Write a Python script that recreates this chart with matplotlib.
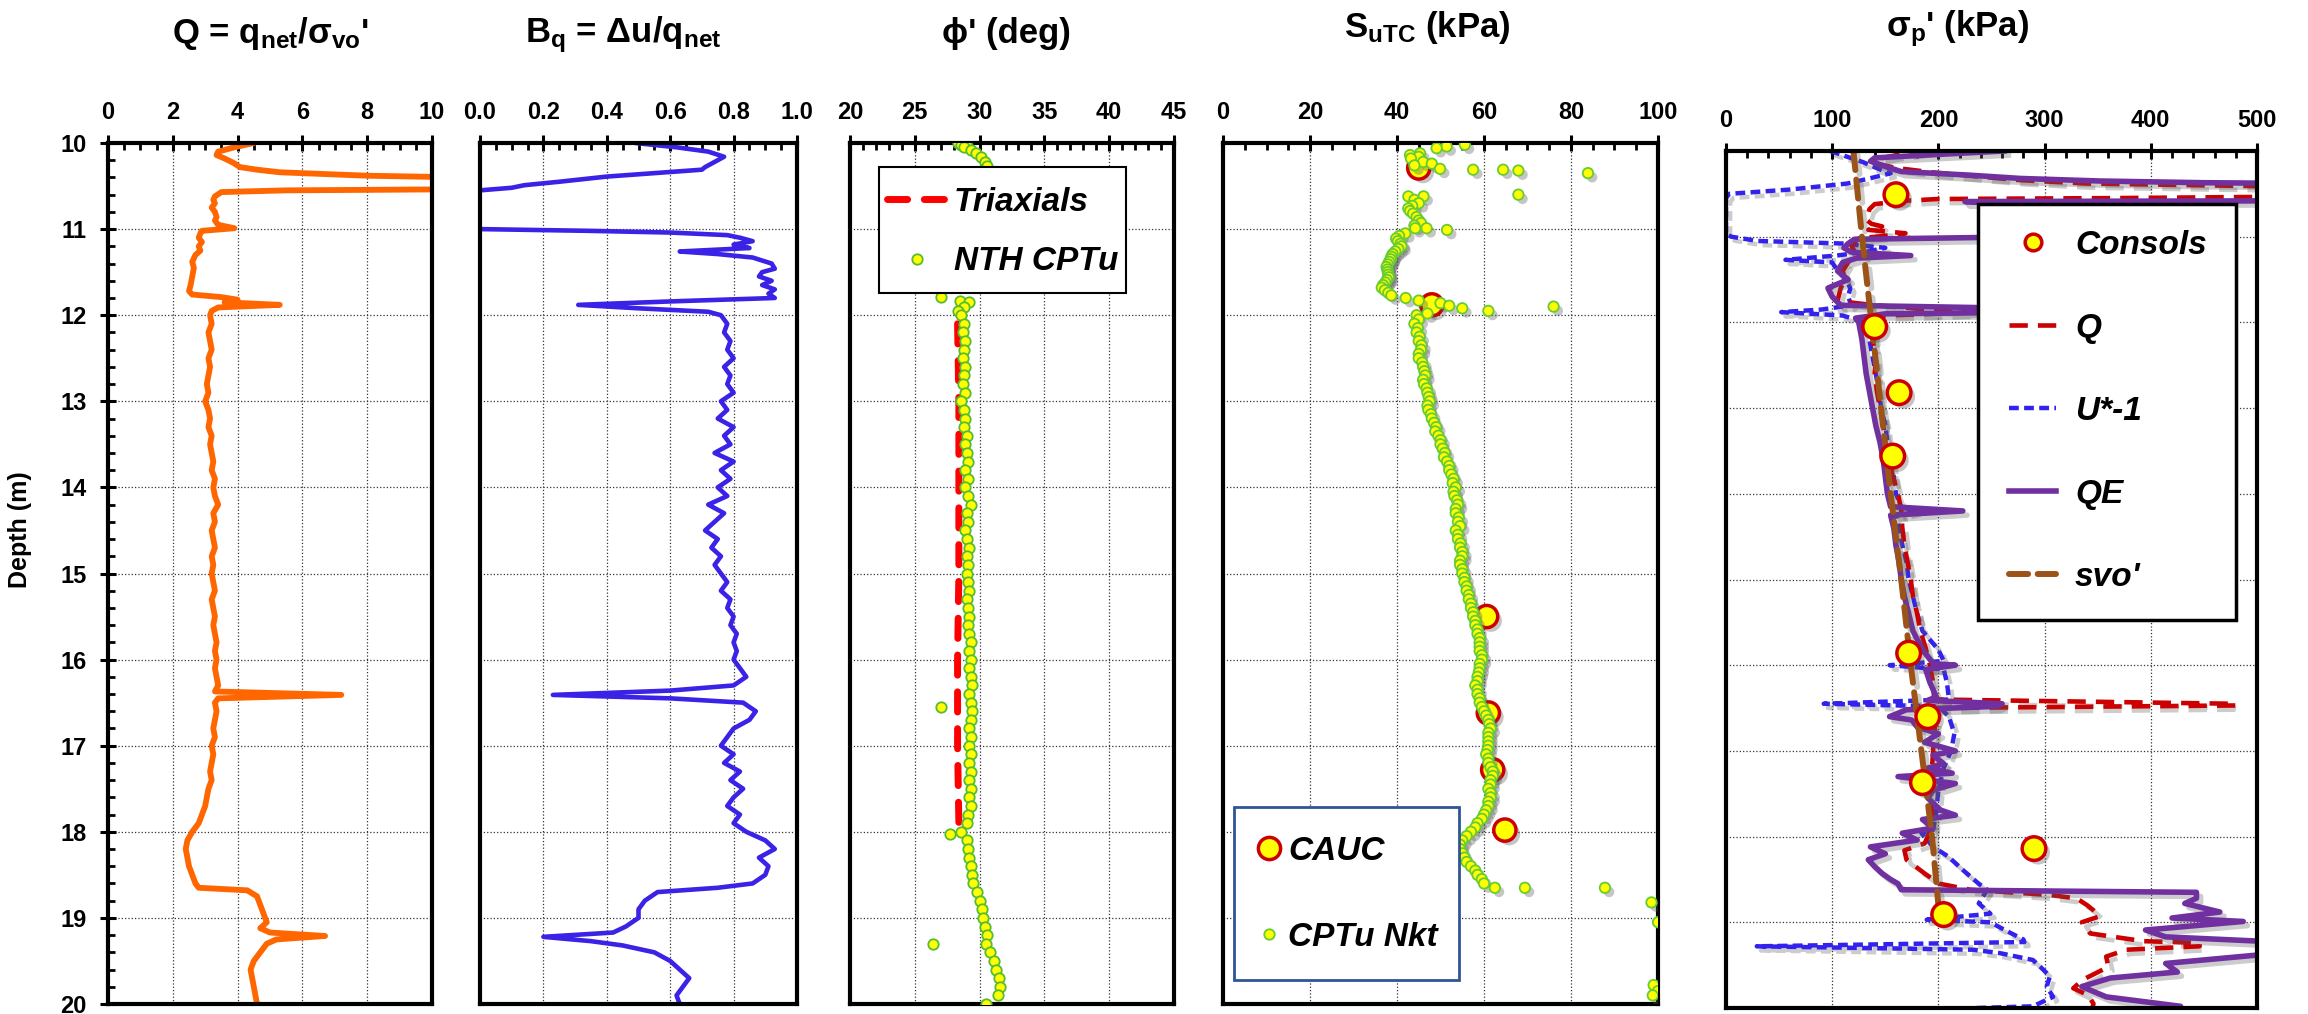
import matplotlib
matplotlib.use('Agg')
import matplotlib.pyplot as plt
from matplotlib.lines import Line2D
from matplotlib.patches import Rectangle
import matplotlib.patheffects as pe
from matplotlib.ticker import MultipleLocator, FormatStrFormatter

plt.rcParams['font.family'] = ['Liberation Sans', 'DejaVu Sans']
plt.rcParams['font.weight'] = 'bold'
plt.rcParams['mathtext.fontset'] = 'custom'
plt.rcParams['mathtext.rm'] = 'Liberation Sans:bold'
plt.rcParams['mathtext.bf'] = 'Liberation Sans:bold'
plt.rcParams['mathtext.it'] = 'Liberation Sans:bold:italic'
plt.rcParams['mathtext.sf'] = 'Liberation Sans:bold'

# ---------------- Panel 1 : Q = qnet/svo' ----------------
q_depth = [10.00, 10.05, 10.10, 10.14, 10.18, 10.23, 10.28, 10.31, 10.34, 10.38, 10.42, 10.53, 10.55, 10.57,
           10.62, 10.66, 10.70, 10.75, 10.80, 10.86, 10.90, 10.95, 10.99, 11.02, 11.05, 11.10, 11.15, 11.20,
           11.25, 11.30, 11.38, 11.45, 11.55, 11.65, 11.72, 11.76, 11.79, 11.82, 11.85, 11.88, 11.91, 11.95,
           12.0, 12.1, 12.2, 12.3, 12.4, 12.5, 12.6, 12.7, 12.8, 12.9, 13.0, 13.1, 13.2, 13.3, 13.4, 13.5,
           13.6, 13.7, 13.8, 13.9, 14.0, 14.1, 14.2, 14.3, 14.4, 14.5, 14.6, 14.7, 14.8, 14.9, 15.0, 15.1,
           15.2, 15.3, 15.4, 15.5, 15.6, 15.7, 15.8, 15.9, 16.0, 16.1, 16.2, 16.3, 16.37, 16.41, 16.45, 16.5,
           16.6, 16.7, 16.8, 16.9, 17.0, 17.1, 17.2, 17.3, 17.4, 17.5, 17.6, 17.7, 17.8, 17.9, 18.0, 18.1,
           18.2, 18.3, 18.4, 18.5, 18.6, 18.65, 18.68, 18.75, 18.85, 18.95, 19.05, 19.12, 19.17, 19.21, 19.25,
           19.3, 19.4, 19.5, 19.6, 19.7, 19.8, 19.9, 20.0]
q_vals = [4.5, 3.9, 3.4, 3.35, 3.6, 3.87, 4.07, 4.6, 5.3, 8.0, 14.0, 14.0, 5.5, 3.5,
          3.3, 3.25, 3.3, 3.2, 3.3, 3.35, 3.3, 3.4, 3.9, 2.9, 2.85, 2.8, 2.9, 2.8,
          2.85, 2.7, 2.6, 2.65, 2.6, 2.55, 2.5, 2.6, 3.5, 4.0, 3.6, 5.3, 3.4, 3.2,
          3.15, 3.2, 3.1, 3.15, 3.2, 3.1, 3.15, 3.1, 3.05, 3.1, 3.0, 3.1, 3.15, 3.1, 3.2, 3.15,
          3.2, 3.25, 3.2, 3.3, 3.25, 3.3, 3.4, 3.25, 3.3, 3.2, 3.25, 3.3, 3.2, 3.25, 3.2, 3.25,
          3.3, 3.2, 3.25, 3.3, 3.25, 3.3, 3.35, 3.3, 3.35, 3.3, 3.35, 3.4, 3.3, 7.2, 3.4, 3.3,
          3.35, 3.3, 3.25, 3.3, 3.2, 3.25, 3.2, 3.15, 3.2, 3.1, 3.05, 3.0, 2.9, 2.8, 2.6, 2.45,
          2.4, 2.45, 2.5, 2.6, 2.7, 2.8, 4.3, 4.6, 4.7, 4.8, 4.9, 4.7, 5.0, 6.7, 5.2,
          4.9, 4.7, 4.5, 4.4, 4.45, 4.5, 4.55, 4.6]

# ---------------- Panel 2 : Bq ----------------
bq_depth = [10.00, 10.05, 10.10, 10.16, 10.22, 10.28, 10.31, 10.35, 10.39, 10.45, 10.49, 10.52, 10.55, 10.60,
            10.98, 11.00, 11.02, 11.04, 11.07, 11.10, 11.14, 11.18, 11.22, 11.26, 11.29, 11.33, 11.40, 11.46,
            11.50, 11.55, 11.60, 11.65, 11.70, 11.75, 11.80, 11.84, 11.88, 11.92, 11.96,
            12.0, 12.1, 12.2, 12.3, 12.4, 12.5, 12.6, 12.7, 12.8, 12.9, 13.0, 13.1, 13.2, 13.3, 13.4, 13.5,
            13.6, 13.7, 13.8, 13.9, 14.0, 14.1, 14.2, 14.3, 14.4, 14.5, 14.6, 14.7, 14.8, 14.9, 15.0, 15.1,
            15.2, 15.3, 15.4, 15.5, 15.6, 15.7, 15.8, 15.9, 16.0, 16.1, 16.2, 16.3, 16.36, 16.41, 16.45, 16.5,
            16.6, 16.7, 16.8, 16.9, 17.0, 17.1, 17.2, 17.3, 17.4, 17.5, 17.6, 17.7, 17.8, 17.9, 18.0, 18.1,
            18.2, 18.3, 18.4, 18.5, 18.6, 18.65, 18.7, 18.8, 18.9, 19.0, 19.1, 19.17, 19.22, 19.27, 19.32,
            19.4, 19.5, 19.6, 19.7, 19.8, 19.9, 20.0]
bq_vals = [0.49, 0.62, 0.72, 0.77, 0.74, 0.71, 0.70, 0.55, 0.40, 0.25, 0.14, 0.10, 0.0, -0.05,
           -0.05, 0.0, 0.34, 0.60, 0.78, 0.82, 0.86, 0.80, 0.85, 0.63, 0.75, 0.86, 0.92, 0.93,
           0.89, 0.88, 0.92, 0.89, 0.93, 0.91, 0.93, 0.60, 0.31, 0.50, 0.72,
           0.76, 0.78, 0.77, 0.79, 0.78, 0.80, 0.77, 0.79, 0.78, 0.80, 0.76, 0.78, 0.75, 0.80, 0.77, 0.79,
           0.74, 0.80, 0.76, 0.79, 0.75, 0.78, 0.72, 0.77, 0.74, 0.71, 0.75, 0.73, 0.76, 0.74, 0.76, 0.78,
           0.76, 0.79, 0.78, 0.80, 0.79, 0.81, 0.80, 0.81, 0.80, 0.82, 0.84, 0.80, 0.60, 0.23, 0.60, 0.83,
           0.87, 0.85, 0.80, 0.78, 0.76, 0.80, 0.77, 0.82, 0.79, 0.83, 0.80, 0.78, 0.82, 0.80, 0.84, 0.90,
           0.93, 0.88, 0.91, 0.90, 0.86, 0.75, 0.56, 0.52, 0.50, 0.50, 0.46, 0.42, 0.20, 0.35, 0.45,
           0.55, 0.60, 0.63, 0.66, 0.64, 0.62, 0.63]

# ---------------- Panel 3 : phi' ----------------
tri_depth = [12.1, 13.0, 14.0, 15.0, 16.0, 17.0, 17.9]
tri_phi = [28.3, 28.4, 28.4, 28.4, 28.3, 28.3, 28.4]

nth_depth = [10.00, 10.02, 10.03, 10.05, 10.08, 10.12, 10.16, 10.22, 10.27,
             11.79, 11.83, 11.85, 11.90, 11.95,
             12.0, 12.1, 12.2, 12.3, 12.4, 12.5, 12.6, 12.7, 12.8, 12.9,
             13.0, 13.1, 13.2, 13.3, 13.4, 13.5, 13.6, 13.7, 13.8, 13.9,
             14.0, 14.1, 14.2, 14.3, 14.4, 14.5, 14.6, 14.7, 14.8, 14.9,
             15.0, 15.1, 15.2, 15.3, 15.4, 15.5, 15.6, 15.7, 15.8, 15.9,
             16.0, 16.1, 16.2, 16.3, 16.4, 16.5, 16.6, 16.7, 16.8, 16.9,
             17.0, 17.1, 17.2, 17.3, 17.4, 17.5, 17.6, 17.7, 17.8, 17.9,
             18.0, 18.1, 18.2, 18.3, 18.4, 18.5, 18.6, 18.7, 18.8, 18.9,
             19.0, 19.1, 19.2, 19.3, 19.4, 19.5, 19.6, 19.7, 19.8, 19.9, 20.0,
             16.55, 18.02, 19.30]
nth_phi = [28.3, 28.6, 29.0, 28.8, 29.3, 29.7, 30.1, 30.4, 30.6,
           27.0, 28.5, 29.2, 28.8, 28.3,
           28.6, 28.8, 28.7, 28.9, 28.8, 28.7, 28.9, 28.8, 28.7, 28.9,
           28.6, 28.8, 28.9, 28.8, 29.0, 28.9, 29.0, 29.1, 28.9, 29.1,
           28.9, 29.1, 29.3, 29.0, 29.1, 28.9, 29.0, 29.2, 29.0, 29.1,
           29.0, 29.1, 29.2, 29.0, 29.1, 29.2, 29.1, 29.2, 29.3, 29.2,
           29.3, 29.2, 29.3, 29.4, 29.2, 29.3, 29.4, 29.3, 29.2, 29.3,
           29.2, 29.3, 29.2, 29.3, 29.2, 29.3, 29.2, 29.3, 29.1, 29.0,
           28.6, 29.0, 29.1, 29.2, 29.3, 29.4, 29.5, 29.8, 30.0, 30.2,
           30.3, 30.4, 30.6, 30.5, 30.8, 31.1, 31.3, 31.5, 31.6, 31.4, 30.5,
           27.0, 27.7, 26.4]

# ---------------- Panel 4 : SuTC ----------------
cauc_depth = [10.29, 11.88, 15.50, 16.62, 17.28, 17.98]
cauc_su = [45.0, 48.0, 60.6, 61.0, 62.0, 64.8]

nkt_depth = [10.02, 10.04, 10.06, 10.12, 10.14, 10.16, 10.18, 10.22, 10.24, 10.26, 10.30, 10.31, 10.31, 10.32, 10.35,
             10.60, 10.62, 10.62, 10.66, 10.70, 10.73, 10.76, 10.79, 10.82, 10.86, 10.90, 10.93, 10.96, 10.99, 10.99,
             11.01, 11.05, 11.08, 11.11, 11.14, 11.17, 11.20, 11.23, 11.26, 11.29, 11.32, 11.35, 11.38, 11.41, 11.44,
             11.47, 11.50, 11.53, 11.56, 11.59, 11.62, 11.65, 11.68, 11.71, 11.74, 11.77, 11.80, 11.83, 11.86, 11.89,
             11.90, 11.92, 11.95, 11.98,
             12.00, 12.05, 12.10, 12.15, 12.20, 12.25, 12.30, 12.35, 12.40, 12.45,
             12.50, 12.55, 12.60, 12.65, 12.70, 12.75, 12.80, 12.85, 12.90, 12.95,
             13.00, 13.05, 13.10, 13.15, 13.20, 13.25, 13.30, 13.35, 13.40, 13.45,
             13.50, 13.55, 13.60, 13.65, 13.70, 13.75, 13.80, 13.85, 13.90, 13.95,
             14.00, 14.05, 14.10, 14.15, 14.20, 14.25, 14.30, 14.35, 14.40, 14.45,
             14.50, 14.55, 14.60, 14.65, 14.70, 14.75, 14.80, 14.85, 14.90, 14.95,
             15.00, 15.05, 15.10, 15.15, 15.20, 15.25, 15.30, 15.35, 15.40, 15.45,
             15.50, 15.55, 15.60, 15.65, 15.70, 15.75, 15.80, 15.85, 15.90, 15.95,
             16.00, 16.05, 16.10, 16.15, 16.20, 16.25, 16.30, 16.35, 16.40, 16.45,
             16.50, 16.55, 16.60, 16.65, 16.70, 16.75, 16.80, 16.85, 16.90, 16.95,
             17.00, 17.05, 17.10, 17.15, 17.20, 17.25, 17.30, 17.35, 17.40, 17.45,
             17.50, 17.55, 17.60, 17.65, 17.70, 17.75, 17.80, 17.85, 17.90, 17.95,
             18.00, 18.05, 18.10, 18.15, 18.20, 18.25, 18.30, 18.35, 18.40, 18.45,
             18.50, 18.55, 18.60, 18.65, 18.65, 18.65, 18.82, 19.05, 19.78, 19.85, 19.90]
nkt_su = [55.6, 51.4, 49.1, 45.3, 43.0, 45.0, 43.2, 46.0, 48.0, 44.0, 49.9, 57.5, 64.4, 67.9, 83.9,
          67.9, 46.1, 42.6, 44.0, 45.0, 43.5, 42.6, 43.0, 43.7, 44.5, 45.0, 45.5, 44.0, 44.2, 46.8,
          51.5, 41.9, 40.5, 39.8, 40.2, 40.8, 41.0, 40.3, 39.6, 39.0, 38.7, 38.5, 38.2, 37.9, 37.6,
          37.8, 37.9, 38.0, 38.1, 37.7, 37.3, 36.8, 36.5, 37.2, 38.0, 38.7, 42.0, 45.0, 50.0, 52.0,
          76.0, 55.0, 61.0, 47.0,
          44.5, 45.0, 44.0, 44.8, 44.5, 45.2, 45.0, 45.6, 45.5, 45.0,
          45.0, 45.8, 46.0, 46.3, 46.5, 46.0, 46.2, 46.8, 47.0, 47.3,
          47.5, 47.0, 47.2, 47.8, 48.0, 48.5, 49.0, 48.8, 49.5, 50.0,
          50.0, 50.5, 51.0, 50.8, 51.5, 52.0, 52.0, 52.5, 53.0, 52.8,
          53.5, 53.0, 53.2, 53.8, 54.0, 53.5, 53.5, 54.2, 54.0, 54.5,
          53.5, 54.0, 54.0, 54.6, 54.5, 55.0, 55.0, 54.5, 54.5, 55.0,
          55.0, 55.5, 55.5, 56.0, 56.0, 56.5, 56.5, 57.0, 57.0, 57.5,
          57.5, 58.0, 58.0, 58.5, 58.5, 59.0, 59.0, 59.0, 59.0, 59.5,
          59.5, 59.0, 59.0, 58.8, 58.5, 58.5, 58.0, 58.5, 58.5, 59.0,
          59.0, 59.5, 60.0, 60.5, 61.0, 61.2, 61.5, 61.0, 61.0, 61.0,
          61.0, 60.8, 60.5, 61.0, 61.0, 61.5, 62.0, 62.0, 61.5, 61.5,
          61.0, 61.5, 61.5, 61.0, 61.0, 60.5, 60.0, 59.5, 58.5, 58.0,
          57.0, 56.0, 55.0, 54.5, 54.5, 55.0, 55.5, 56.0, 57.0, 58.0,
          58.5, 59.5, 60.0, 62.5, 69.4, 87.8, 98.5, 100.0, 99.0, 100.0, 98.8]

# ---------------- Panel 5 : sigma_p' ----------------
cons_depth = [10.51, 12.05, 12.82, 13.56, 15.86, 16.60, 17.37, 18.14, 18.91]
cons_sp = [160, 140, 163, 157, 172, 190, 185, 290, 205]

sq_depth = [10.00, 10.05, 10.10, 10.15, 10.20, 10.25, 10.30, 10.34, 10.38, 10.41, 10.42, 10.53, 10.55, 10.56,
            10.58, 10.62, 10.68, 10.73, 10.80, 10.85, 10.88, 10.92, 10.96, 10.99, 11.02, 11.1, 11.2, 11.3,
            11.4, 11.5, 11.6, 11.7, 11.75, 11.8, 11.84, 11.88, 11.92, 11.96, 12.0, 12.2, 12.4, 12.6, 12.8,
            13.0, 13.2, 13.4, 13.6, 13.8, 14.0, 14.2, 14.4, 14.6, 14.8, 15.0, 15.2, 15.4, 15.6, 15.8,
            16.0, 16.2, 16.4, 16.45, 16.47, 16.5, 16.6, 16.8, 17.0, 17.2, 17.4, 17.6, 17.8, 18.0, 18.08,
            18.16, 18.27, 18.43, 18.55, 18.62, 18.68, 18.72, 18.8, 18.86, 18.93, 19.0, 19.13, 19.22, 19.24,
            19.28, 19.32, 19.4, 19.52, 19.67, 19.77, 19.85, 19.95, 20.0]
sq_vals = [190, 160, 140, 142, 161, 195, 240, 277, 340, 500, 560, 560, 360, 200,
           170, 140, 135, 134, 132, 137, 147, 134, 169, 150, 125, 118, 122, 115,
           110, 112, 108, 106, 105, 140, 180, 240, 150, 135, 140, 138, 141, 140, 142,
           145, 148, 150, 154, 157, 162, 165, 166, 168, 171, 174, 176, 180, 183, 188,
           192, 195, 196, 480, 480, 195, 198, 196, 195, 194, 196, 193, 195, 190, 187,
           168, 170, 187, 201, 230, 304, 330, 340, 346, 352, 335, 343, 393, 446,
           446, 377, 358, 360, 336, 327, 341, 346, 345]

su_depth = [10.00, 10.05, 10.13, 10.20, 10.26, 10.32, 10.38, 10.45, 10.50, 10.55, 10.97, 11.00, 11.05, 11.08,
            11.13, 11.18, 11.22, 11.27, 11.30, 11.40, 11.50, 11.60, 11.70, 11.80, 11.85, 11.88, 11.92, 12.0,
            12.2, 12.4, 12.6, 12.8, 13.0, 13.2, 13.4, 13.6, 13.8, 14.0, 14.15, 14.2, 14.25, 14.4, 14.6, 14.8,
            15.0, 15.2, 15.4, 15.6, 15.82, 15.95, 16.0, 16.05, 16.2, 16.4, 16.45, 16.48, 16.6, 16.8, 17.0,
            17.2, 17.46, 17.7, 17.92, 17.96, 18.12, 18.23, 18.4, 18.55, 18.62, 18.78, 18.9, 18.97, 19.0, 19.1,
            19.2, 19.23, 19.28, 19.32, 19.36, 19.44, 19.52, 19.63, 19.75, 19.87, 19.98, 20.0]
su_vals = [98, 110, 129, 142, 155, 135, 114, 60, 3, 0, 0, 5, 30, 111,
           150, 130, 104, 56, 100, 105, 113, 117, 115, 118, 90, 52, 110, 130,
           135, 138, 141, 144, 146, 150, 152, 155, 158, 160, 165, 178, 160, 163, 166, 170,
           172, 176, 180, 185, 200, 205, 154, 205, 208, 210, 92, 200, 210, 215, 212,
           205, 200, 198, 195, 184, 195, 209, 224, 238, 246, 238, 249, 189, 249, 264,
           280, 281, 29, 233, 258, 289, 296, 305, 302, 308, 289, 236]

sqe_depth = [10.00, 10.04, 10.08, 10.12, 10.18, 10.24, 10.28, 10.32, 10.35, 10.37, 10.38, 10.58, 10.59, 10.63,
             10.97, 11.01, 11.03, 11.08, 11.13, 11.18, 11.22, 11.25, 11.30, 11.40, 11.50, 11.60, 11.70, 11.80,
             11.84, 11.88, 11.90, 11.95, 12.0, 12.2, 12.4, 12.6, 12.8, 13.0, 13.2, 13.4, 13.6, 13.8, 14.0,
             14.15, 14.2, 14.25, 14.4, 14.6, 14.8, 15.0, 15.2, 15.4, 15.6, 15.82, 15.9, 15.98, 16.0, 16.05,
             16.2, 16.37, 16.41, 16.45, 16.48, 16.52, 16.6, 16.64, 16.72, 16.8, 16.9, 17.0, 17.05, 17.15,
             17.2, 17.26, 17.3, 17.38, 17.46, 17.55, 17.69, 17.75, 17.8, 17.9, 17.96, 18.04, 18.12, 18.2,
             18.27, 18.35, 18.43, 18.5, 18.55, 18.62, 18.65, 18.72, 18.78, 18.88, 18.95, 18.99, 19.09,
             19.17, 19.23, 19.36, 19.48, 19.58, 19.65, 19.75, 19.87, 19.98, 20.0]
sqe_vals = [262, 200, 140, 136, 150, 165, 227, 277, 352, 450, 560, 560, 225, 300,
            300, 236, 121, 115, 111, 118, 174, 123, 110, 105, 115, 96, 100, 108,
            300, 300, 150, 122, 125, 128, 130, 132, 135, 138, 141, 145, 148, 150, 152,
            155, 223, 155, 158, 160, 163, 165, 168, 172, 176, 185, 190, 195, 216, 188,
            192, 198, 190, 260, 255, 170, 154, 175, 180, 200, 187, 216, 195, 205,
            190, 213, 162, 216, 195, 190, 202, 216, 185, 195, 166, 180, 136, 150,
            134, 140, 147, 155, 162, 165, 443, 443, 432, 465, 420, 487, 395,
            414, 520, 520, 414, 425, 362, 335, 358, 428, 428]

svo_depth = [10.0, 11.0, 12.0, 13.0, 14.0, 15.0, 16.0, 17.0, 18.0, 18.8]
svo_vals = [120, 128, 137, 146, 155, 165, 174, 184, 194, 200]

# ---------------- figure ----------------
W, H = 2308, 1014
fig = plt.figure(figsize=(W / 100, H / 100), dpi=100)


def add_ax(x0, x1, y0, y1):
    return fig.add_axes([x0 / W, 1 - y1 / H, (x1 - x0) / W, (y1 - y0) / H])


def style(ax, xlim, major, minor, fmt, yticks=False):
    ax.set_xlim(*xlim)
    ax.set_ylim(20, 10)
    ax.xaxis.tick_top()
    ax.xaxis.set_major_locator(MultipleLocator(major))
    ax.xaxis.set_minor_locator(MultipleLocator(minor))
    ax.xaxis.set_major_formatter(FormatStrFormatter(fmt))
    ax.yaxis.set_major_locator(MultipleLocator(1))
    ax.tick_params(axis='x', which='major', direction='inout', length=11, width=2.2,
                   labelsize=17, pad=8, top=True, bottom=False)
    ax.tick_params(axis='x', which='minor', direction='in', length=5, width=2,
                   top=True, bottom=False)
    if yticks:
        ax.yaxis.set_minor_locator(MultipleLocator(0.2))
        ax.tick_params(axis='y', which='major', direction='inout', length=11, width=2.2,
                       labelsize=17, pad=10)
        ax.tick_params(axis='y', which='minor', direction='in', length=5, width=2)
    else:
        ax.tick_params(axis='y', which='both', left=False, labelleft=False)
    for s in ax.spines.values():
        s.set_linewidth(3)
    ax.grid(True, which='major', linestyle=':', linewidth=0.9, color='#333333')
    ax.set_axisbelow(True)


def legend_box(ax, handles, labels, box, row_center, handle_x, handlelength, textpad, spacing,
               edgecolor, edgewidth):
    # box: (x0, x1, y0, y1) in figure pixels (y from top)
    x0, x1, y0, y1 = box
    ax.add_patch(Rectangle((x0 / W, 1 - y1 / H), (x1 - x0) / W, (y1 - y0) / H,
                           transform=fig.transFigure, facecolor='white', edgecolor=edgecolor,
                           linewidth=edgewidth, zorder=4.8, clip_on=False))
    lg = ax.legend(handles, labels, loc='center left', bbox_to_anchor=(handle_x / W, 1 - row_center / H),
                   bbox_transform=fig.transFigure, prop=leg_font, frameon=False, borderpad=0,
                   labelspacing=spacing, handlelength=handlelength, handletextpad=textpad,
                   borderaxespad=0)
    lg.set_zorder(5)
    return lg


ax1 = add_ax(108, 432, 143, 1004)
ax2 = add_ax(480, 797, 143, 1004)
ax3 = add_ax(850, 1174, 143, 1004)
ax4 = add_ax(1223, 1658, 143, 1004)
ax5 = add_ax(1726, 2257, 151, 1008)

style(ax1, (0, 10), 2, 0.5, '%d', yticks=True)
style(ax2, (0, 1), 0.2, 0.05, '%.1f')
style(ax3, (20, 45), 5, 1, '%d')
style(ax4, (0, 100), 20, 5, '%d')
style(ax5, (0, 500), 100, 20, '%d')

leg_font = dict(family='Liberation Sans', weight='bold', style='italic', size=24)
shadow_line = [pe.SimpleLineShadow(offset=(3, -3), shadow_color='0.35', alpha=0.3), pe.Normal()]
shadow_mark = [pe.SimplePatchShadow(offset=(3, -3), shadow_rgbFace='0.35', alpha=0.35), pe.Normal()]

# panel 1
ax1.plot(q_vals, q_depth, color='#ff6600', lw=4.2, solid_joinstyle='round', solid_capstyle='round')
# panel 2
ax2.plot(bq_vals, bq_depth, color='#3a22e6', lw=3.3, solid_joinstyle='round', solid_capstyle='round')

# panel 3
ax3.plot(tri_phi, tri_depth, color='#ff0000', lw=5, dashes=(2.9, 2.4), dash_capstyle='round', zorder=2)
ax3.plot(nth_phi, nth_depth, 'o', ls='none', ms=7.5, mfc='#ffff00', mec='#55bb33', mew=1.3, zorder=3)
h3 = [Line2D([], [], color='#ff0000', lw=5, dashes=(2.9, 2.4), dash_capstyle='round'),
      Line2D([], [], marker='o', ls='none', ms=7.5, mfc='#ffff00', mec='#55bb33', mew=1.3)]
legend_box(ax3, h3, ['Triaxials', 'NTH CPTu'], (879, 1126, 167, 293), 232, 887, 1.8, 0.2, 0.85,
           'black', 1.5)

# panel 4
ax4.plot(nkt_su, nkt_depth, 'o', ls='none', ms=7.5, mfc='#ffff00', mec='#66cc33', mew=1.3, zorder=3,
         path_effects=shadow_mark)
ax4.plot(cauc_su, cauc_depth, 'o', ls='none', ms=16, mfc='#ffff00', mec='#cc0000', mew=2.5, zorder=2.5,
         path_effects=shadow_mark)
h4 = [Line2D([], [], marker='o', ls='none', ms=16, mfc='#ffff00', mec='#cc0000', mew=2.5),
      Line2D([], [], marker='o', ls='none', ms=7.5, mfc='#ffff00', mec='#66cc33', mew=1.3)]
legend_box(ax4, h4, ['CAUC', 'CPTu Nkt'], (1234, 1459, 807, 980), 894, 1256, 0.8, 0.16, 1.65,
           '#2f5596', 2)

# panel 5
q_style = dict(color='#cc0000', lw=3.3, dashes=(4, 2.2))
u_style = dict(color='#3322ee', lw=3.2, dashes=(2.2, 1.2))
qe_style = dict(color='#7030a0', lw=4.0)
svo_style = dict(color='#9c5318', lw=4.3, dashes=(3.2, 1.6), dash_capstyle='round')
ax5.plot(su_vals, su_depth, zorder=2.0, path_effects=shadow_line, **u_style)
ax5.plot(sq_vals, sq_depth, zorder=2.1, path_effects=shadow_line, **q_style)
ax5.plot(sqe_vals, sqe_depth, zorder=2.2, path_effects=shadow_line, solid_joinstyle='round', **qe_style)
ax5.plot(svo_vals, svo_depth, zorder=2.3, path_effects=shadow_line, **svo_style)
ax5.plot(cons_sp, cons_depth, 'o', ls='none', ms=17, mfc='#ffff00', mec='#cc0000', mew=2.5, zorder=3,
         path_effects=shadow_mark)
h5 = [Line2D([], [], marker='o', ls='none', ms=12, mfc='#ffff00', mec='#cc0000', mew=2.5),
      Line2D([], [], **q_style),
      Line2D([], [], **u_style),
      Line2D([], [], **qe_style),
      Line2D([], [], **svo_style)]
legend_box(ax5, h5, ['Consols', 'Q', 'U*-1', 'QE', "svo'"], (1978, 2236, 204, 620), 411, 2009, 1.41, 0.57,
           1.56, 'black', 2.5)

# titles
tsize = 25
fig.text(270 / W, 1 - 43 / H, r"Q = q$_{\mathbf{net}}$/σ$_{\mathbf{vo}}$'", ha='center', va='baseline', fontsize=tsize)
fig.text(623 / W, 1 - 42 / H, r"B$_{\mathbf{q}}$ = Δu/q$_{\mathbf{net}}$", ha='center', va='baseline', fontsize=tsize)
fig.text(1006 / W, 1 - 43 / H, "ϕ' (deg)", ha='center', va='baseline', fontsize=tsize)
fig.text(1427 / W, 1 - 37 / H, r"S$_{\mathbf{uTC}}$ (kPa)", ha='center', va='baseline', fontsize=tsize)
fig.text(1958 / W, 1 - 36 / H, r"σ$_{\mathbf{p}}$' (kPa)", ha='center', va='baseline', fontsize=tsize)
fig.text(20 / W, 1 - 530 / H, 'Depth (m)', rotation=90, ha='center', va='center', fontsize=18)

fig.savefig('out.png', dpi=100)
